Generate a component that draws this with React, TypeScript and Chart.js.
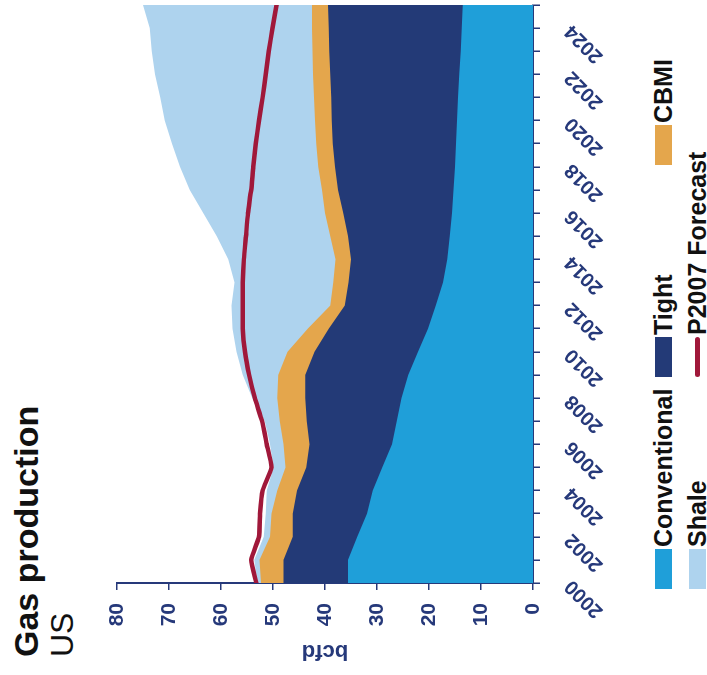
import React, { useEffect, useRef } from "react";
import { Chart, registerables } from "chart.js";

Chart.register(...registerables);

// ---- data (bcfd) ----
const years = [
  2000, 2001, 2002, 2003, 2004, 2005, 2006, 2007, 2008, 2009, 2010, 2011, 2012,
  2013, 2014, 2015, 2016, 2017, 2018, 2019, 2020, 2021, 2022, 2023, 2024, 2025,
];
const conventional = [
  35.6, 35.6, 33.8, 31.9, 30.8, 29.0, 27.1, 26.2, 25.3, 24.0, 22.1, 20.2, 18.7,
  17.3, 16.5, 16.0, 15.6, 15.3, 15.0, 14.8, 14.6, 14.4, 14.2, 13.9, 13.7, 13.5,
];
const tight = [
  12.4, 12.4, 12.4, 14.3, 14.6, 14.6, 15.9, 17.3, 18.5, 19.8, 19.9, 19.1, 17.5,
  18.2, 18.5, 19.6, 20.9, 22.2, 23.1, 23.7, 24.1, 24.4, 24.8, 25.3, 25.6, 25.9,
];
const cbm = [
  4.3, 4.6, 4.4, 4.1, 3.8, 4.0, 5.0, 5.2, 5.4, 5.2, 5.2, 4.0, 2.8, 2.9, 3.0,
  3.4, 3.5, 3.1, 3.2, 3.2, 3.2, 3.3, 3.3, 3.2, 3.2, 3.1,
];
const shale = [
  0.7, 1.0, 1.2, 1.1, 2.0, 2.3, 2.6, 2.9, 4.8, 6.8, 9.8, 14.5, 19.0, 19.0, 20.6,
  21.8, 23.4, 25.4, 26.6, 27.7, 28.9, 29.6, 30.4, 30.9, 31.2, 32.5,
];
const p2007Forecast = [
  53.2, 54.2, 52.7, 52.5, 52.0, 50.3, 51.2, 52.1, 53.5, 54.6, 55.4, 55.8, 55.8,
  55.8, 55.6, 55.2, 54.8, 54.2, 53.8, 53.3, 52.7, 52.0, 51.4, 50.8, 50.1, 49.3,
];
const labeledYears = [
  2000, 2002, 2004, 2006, 2008, 2010, 2012, 2014, 2016, 2018, 2020, 2022, 2024,
];

const C_CONV = "#1f9fd9";
const C_TIGHT = "#233a77";
const C_CBM = "#e4a64c";
const C_SHALE = "#aed3ee";
const C_P2007 = "#a0183a";
const NAVY = "#26397a";
const FONT = '"Liberation Sans", Arial, Helvetica, sans-serif';

const pts = (vals: number[]) => years.map((x, i) => ({ x, y: vals[i] }));

const legendItems = [
  { label: "Conventional", color: C_CONV, kind: "box", left: 86, cy: 663.5 },
  { label: "Tight", color: C_TIGHT, kind: "box", left: 298, cy: 663.5 },
  { label: "CBMI", color: C_CBM, kind: "box", left: 510, cy: 663.5 },
  { label: "Shale", color: C_SHALE, kind: "box", left: 86, cy: 697 },
  { label: "P2007 Forecast", color: C_P2007, kind: "line", left: 298, cy: 697 },
];

export default function App() {
  const ref = useRef<HTMLCanvasElement | null>(null);

  useEffect(() => {
    if (!ref.current) return;
    const area = (label: string, vals: number[], color: string) => ({
      label,
      data: pts(vals),
      backgroundColor: color,
      borderColor: color,
      borderWidth: 0,
      pointRadius: 0,
      fill: "origin",
      stack: "prod",
      tension: 0,
    });
    const chart = new Chart(ref.current, {
      type: "line",
      data: {
        datasets: [
          area("Conventional", conventional, C_CONV),
          area("Tight", tight, C_TIGHT),
          area("CBMI", cbm, C_CBM),
          area("Shale", shale, C_SHALE),
          {
            label: "P2007 Forecast",
            data: pts(p2007Forecast),
            borderColor: C_P2007,
            backgroundColor: C_P2007,
            borderWidth: 4.5,
            pointRadius: 0,
            fill: false,
            stack: "forecast",
            order: -1,
            tension: 0.15,
            borderCapStyle: "round",
            borderJoinStyle: "round",
          } as any,
        ],
      },
      options: {
        responsive: false,
        animation: false,
        layout: { padding: { top: 27, right: 5, left: 0, bottom: 0 } },
        plugins: {
          legend: { display: false },
          tooltip: { enabled: false },
          title: { display: false },
        },
        scales: {
          x: {
            type: "linear",
            min: 2000,
            max: 2025,
            afterFit: (s: any) => {
              s.height = 100;
              s.paddingRight = 0;
              s.paddingLeft = 0;
            },
            grid: {
              display: true,
              drawOnChartArea: false,
              drawTicks: true,
              tickLength: 7,
              color: NAVY,
              lineWidth: 1.5,
            },
            border: { display: true, color: NAVY, width: 2 },
            ticks: {
              stepSize: 1,
              autoSkip: false,
              minRotation: 45,
              maxRotation: 45,
              padding: 20,
              color: NAVY,
              font: { family: FONT, size: 20, weight: "bold" },
              callback: (v: any) =>
                labeledYears.includes(Number(v)) ? String(v) : "",
            },
          },
          y: {
            type: "linear",
            stacked: true,
            min: 0,
            max: 80,
            afterFit: (s: any) => {
              s.width = 92;
            },
            grid: {
              display: true,
              drawOnChartArea: false,
              drawTicks: true,
              tickLength: 7,
              color: NAVY,
              lineWidth: 1.5,
            },
            border: { display: true, color: NAVY, width: 2 },
            ticks: {
              stepSize: 10,
              padding: 13,
              color: NAVY,
              font: { family: FONT, size: 21, weight: "bold" },
            },
            title: {
              display: true,
              text: "bcfd",
              color: NAVY,
              font: { family: FONT, size: 22, weight: "bold" },
              padding: { top: 11, bottom: 0 },
            },
          },
        },
      } as any,
    });
    return () => chart.destroy();
  }, []);

  return (
    <div
      style={{
        position: "fixed",
        left: 0,
        top: 0,
        width: 707,
        height: 675,
        overflow: "hidden",
        background: "#fff",
      }}
    >
      <div
        style={{
          position: "absolute",
          left: 0,
          top: 0,
          width: 675,
          height: 707,
          transformOrigin: "0 0",
          transform: "translate(0px, 675px) rotate(-90deg)",
          fontFamily: FONT,
          background: "#fff",
        }}
      >
        <div
          style={{
            position: "absolute",
            left: 18,
            top: 9,
            fontSize: 34,
            fontWeight: "bold",
            lineHeight: 1,
            color: "#111",
            whiteSpace: "nowrap",
          }}
        >
          Gas production
        </div>
        <div
          style={{
            position: "absolute",
            left: 18,
            top: 46,
            fontSize: 32,
            lineHeight: 1,
            color: "#111",
          }}
        >
          US
        </div>
        <canvas
          ref={ref}
          width={675}
          height={543}
          style={{ position: "absolute", left: 0, top: 90 }}
        />
        {legendItems.map((it) => (
          <div
            key={it.label}
            style={{
              position: "absolute",
              left: it.left,
              top: it.cy - 12.5,
              height: 25,
              display: "flex",
              alignItems: "center",
              whiteSpace: "nowrap",
            }}
          >
            {it.kind === "box" ? (
              <div style={{ width: 40, height: 17, background: it.color }} />
            ) : (
              <div
                style={{
                  width: 40,
                  height: 5,
                  borderRadius: 3,
                  background: it.color,
                }}
              />
            )}
            <span
              style={{
                marginLeft: 2,
                fontSize: 25,
                fontWeight: "bold",
                lineHeight: 1,
                color: "#111",
              }}
            >
              {it.label}
            </span>
          </div>
        ))}
      </div>
    </div>
  );
}
